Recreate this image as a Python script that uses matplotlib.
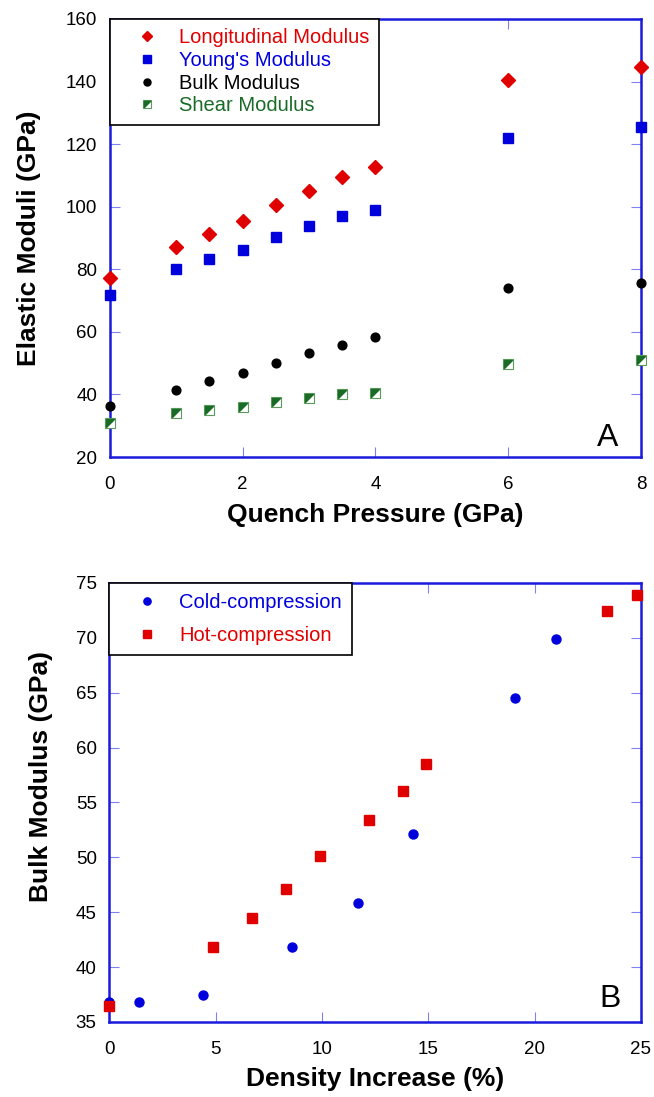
import numpy as np
import matplotlib.pyplot as plt
from matplotlib.path import Path
from matplotlib.legend_handler import HandlerTuple

plt.rcParams['font.family'] = ['Liberation Sans', 'DejaVu Sans']

# Panel A: elastic moduli vs quench pressure
pressure = [0, 1, 1.5, 2, 2.5, 3, 3.5, 4, 6, 8]
longitudinal = [77.2, 87.1, 91.2, 95.4, 100.4, 105.0, 109.4, 112.8, 140.6, 144.5]
youngs = [71.8, 80.1, 83.3, 86.2, 90.3, 93.8, 96.9, 99.0, 122.0, 125.5]
bulk = [36.4, 41.5, 44.3, 46.8, 49.9, 53.1, 55.9, 58.4, 74.0, 75.6]
shear = [30.8, 34.2, 34.9, 36.1, 37.5, 38.8, 40.0, 40.6, 49.7, 51.0]

# Panel B: bulk modulus vs density increase
cold_x = [0.0, 1.4, 4.4, 8.6, 11.7, 14.3, 19.1, 21.0]
cold_y = [36.8, 36.8, 37.5, 41.8, 45.8, 52.1, 64.5, 69.9]
hot_x = [0.0, 4.9, 6.7, 8.3, 9.9, 12.2, 13.8, 14.9, 23.4, 24.8]
hot_y = [36.5, 41.8, 44.5, 47.1, 50.1, 53.4, 56.0, 58.5, 72.4, 73.9]

red = '#e00000'
blue = '#0000dd'
green = '#1b6b28'
spine = '#1a1adc'
tickc = '#8080ee'

# upper-left half of a square, for the shear marker
tri = Path([(-1, 1), (1, 1), (-1, -1), (-1, 1)],
           [Path.MOVETO, Path.LINETO, Path.LINETO, Path.CLOSEPOLY])

fig = plt.figure(figsize=(6.54, 10.97), dpi=100)
ax1 = fig.add_axes([0.168, 0.5834, 0.812, 0.3993])
ax2 = fig.add_axes([0.167, 0.0684, 0.813, 0.4002])


def style(ax):
    for s in ax.spines.values():
        s.set_color(spine)
        s.set_linewidth(1.8)
    ax.tick_params(direction='in', length=7, width=0.8, color=tickc,
                   top=True, right=True, labelsize=13.5)
    ax.tick_params(axis='x', pad=14)
    ax.tick_params(axis='y', pad=9)


def legend_box(ax, handles, labels, colors, spacing, bpad, hlen, tpad):
    leg = ax.legend(handles, labels,
                    handler_map={tuple: HandlerTuple(ndivide=1, pad=0)},
                    loc='upper left', bbox_to_anchor=(0.0, 1.0), fontsize=14.5,
                    frameon=True, fancybox=False, edgecolor='black', framealpha=1,
                    borderaxespad=0, handlelength=hlen, handletextpad=tpad,
                    labelspacing=spacing, borderpad=bpad, markerscale=0.8)
    leg.get_frame().set_linewidth(1.2)
    for t, c in zip(leg.get_texts(), colors):
        t.set_color(c)
    return leg


# --- panel A
l1, = ax1.plot(pressure, longitudinal, 'D', color=red, ms=7, ls='none', clip_on=False, zorder=5)
l2, = ax1.plot(pressure, youngs, 's', color=blue, ms=6.8, ls='none', clip_on=False, zorder=5)
l3, = ax1.plot(pressure, bulk, 'o', color='black', ms=6.3, ls='none', clip_on=False, zorder=5)
l4a, = ax1.plot(pressure, shear, 's', mfc='white', mec='#5a9a5a', mew=0.8, ms=6.5,
                ls='none', clip_on=False, zorder=5)
l4b, = ax1.plot(pressure, shear, marker=tri, color=green, ms=5.6, ls='none',
                clip_on=False, zorder=6)
ax1.set_xlim(0, 8)
ax1.set_ylim(20, 160)
ax1.set_xticks(np.arange(0, 9, 2))
ax1.set_yticks(np.arange(20, 161, 20))
style(ax1)
ax1.set_xlabel('Quench Pressure (GPa)', fontsize=19, fontweight='bold', labelpad=7)
ax1.set_ylabel('Elastic Moduli (GPa)', fontsize=19, fontweight='bold', labelpad=18)
ax1.text(0.957, 0.01, 'A', transform=ax1.transAxes, fontsize=23, ha='right', va='bottom')
legend_box(ax1, [l1, l2, l3, (l4a, l4b)],
           ['Longitudinal Modulus', "Young's Modulus", 'Bulk Modulus', 'Shear Modulus'],
           [red, blue, 'black', green], 0.18, 0.47, 2.7, 0.28)

# --- panel B
c1, = ax2.plot(cold_x, cold_y, 'o', color=blue, ms=6.5, ls='none', clip_on=False, zorder=5)
c2, = ax2.plot(hot_x, hot_y, 's', color=red, ms=7.5, ls='none', clip_on=False, zorder=5)
ax2.set_xlim(0, 25)
ax2.set_ylim(35, 75)
ax2.set_xticks(np.arange(0, 26, 5))
ax2.set_yticks(np.arange(35, 76, 5))
style(ax2)
ax2.set_xlabel('Density Increase (%)', fontsize=19, fontweight='bold', labelpad=6)
ax2.set_ylabel('Bulk Modulus (GPa)', fontsize=19, fontweight='bold')
ax2.yaxis.set_label_coords(-0.106, 0.558)
ax2.text(0.962, 0.018, 'B', transform=ax2.transAxes, fontsize=23, ha='right', va='bottom')
legend_box(ax2, [c1, c2], ['Cold-compression', 'Hot-compression'],
           [blue, red], 0.7, 0.5, 2.76, 0.22)

fig.savefig('out.png', dpi=100)
